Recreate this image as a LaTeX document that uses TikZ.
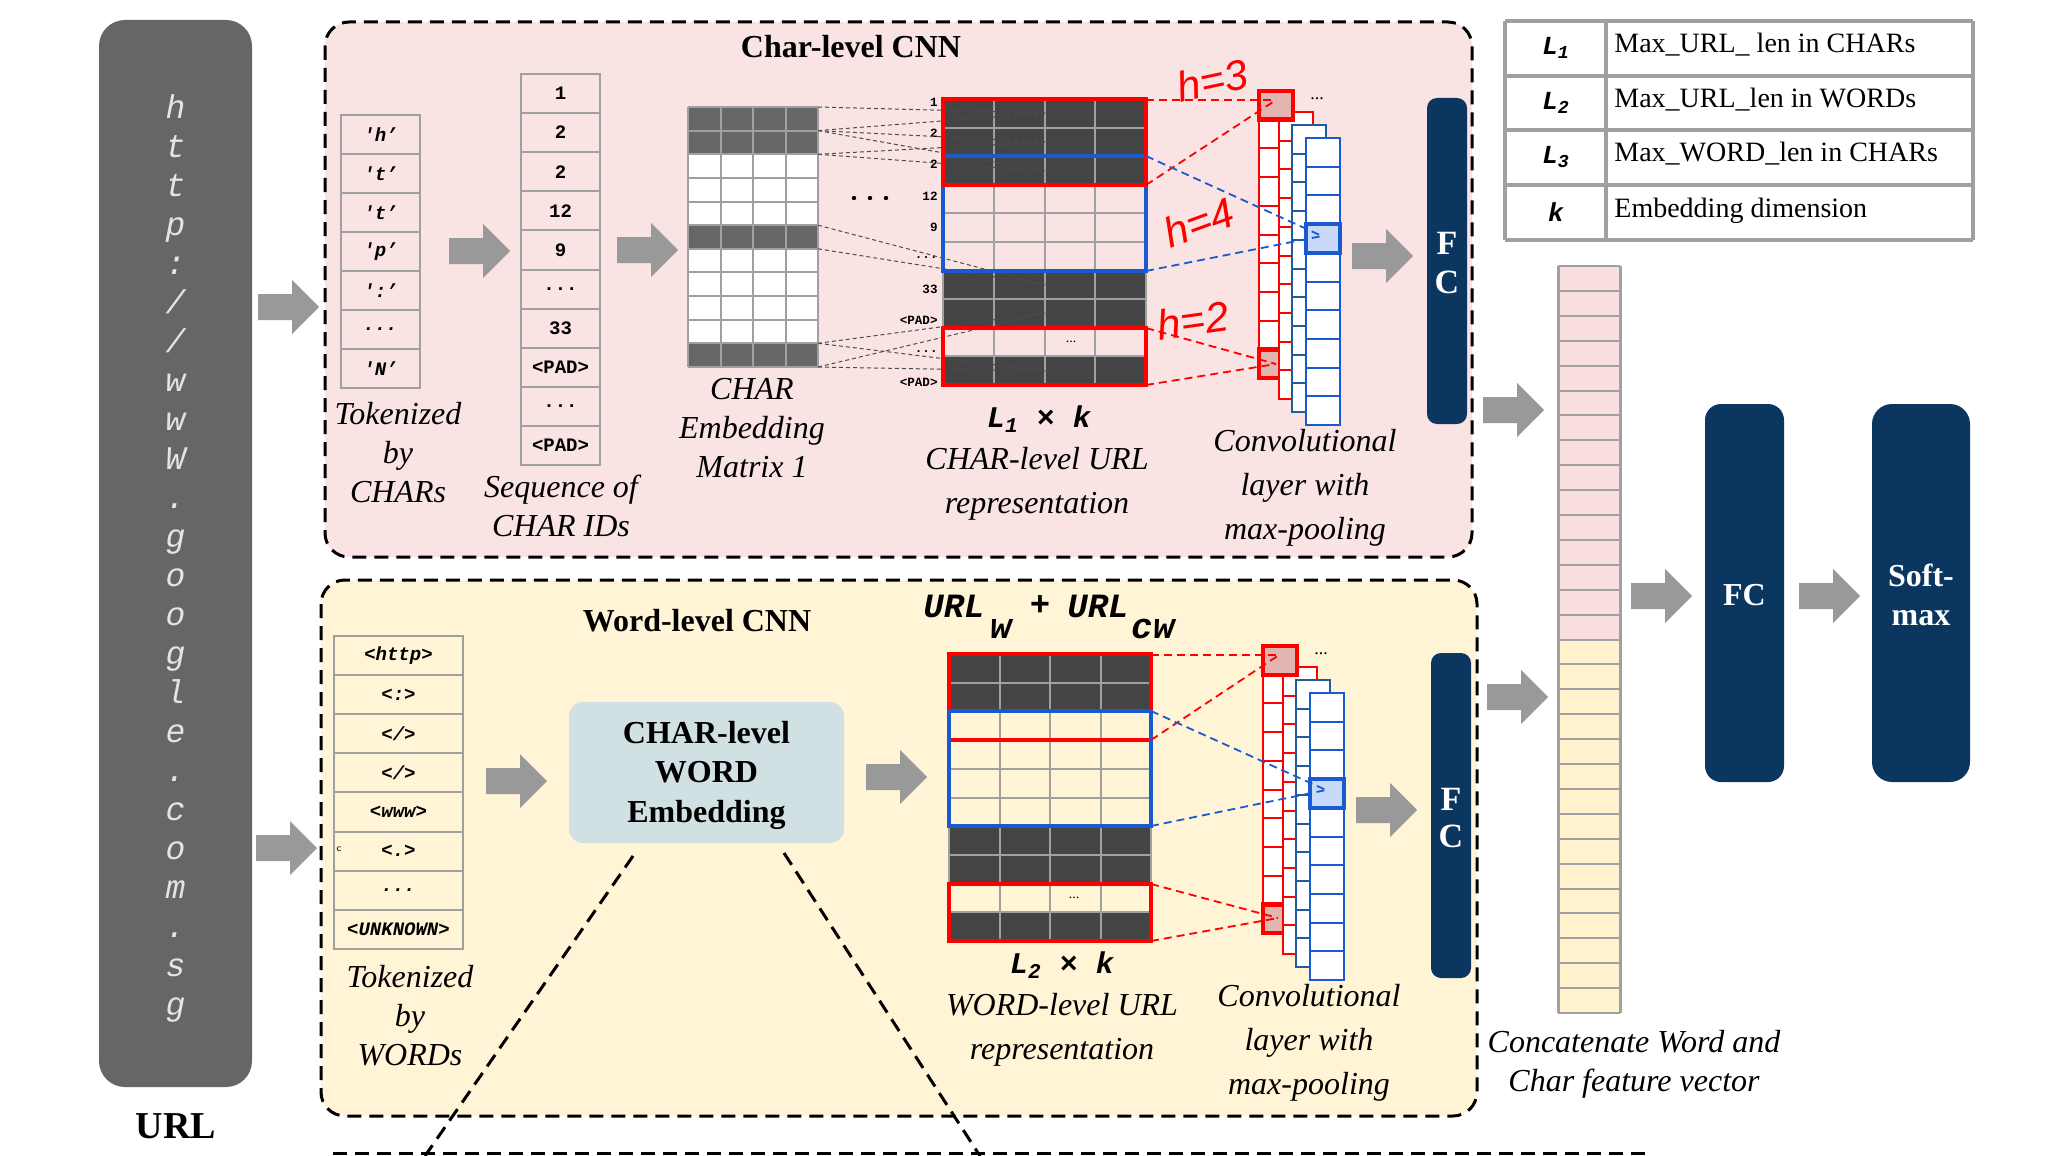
\documentclass[tikz,border=0pt]{standalone}
\usepackage{fontspec}
\setmainfont{Liberation Serif}
\setmonofont{Liberation Mono}
\newfontfamily\handfont{Liberation Sans}
\usetikzlibrary{calc}
\definecolor{pinkbg}{HTML}{F9E3E3}
\definecolor{yellowbg}{HTML}{FFF4D6}
\definecolor{navy}{HTML}{0B3660}
\definecolor{arrowgray}{HTML}{999999}
\definecolor{gridgray}{HTML}{A0A0A0}
\definecolor{embdark}{HTML}{666666}
\definecolor{repdark}{HTML}{444444}
\definecolor{urlgray}{HTML}{666666}
\definecolor{wordemb}{HTML}{D0E0E3}
\definecolor{hlred}{HTML}{E3B5B0}
\definecolor{hlblue}{HTML}{C9DAF8}
\definecolor{convblue}{HTML}{1A5AD0}
\definecolor{convblueB}{HTML}{1F5C99}
\definecolor{catpink}{HTML}{F8DEDE}
\definecolor{catyellow}{HTML}{FFF2CC}
\definecolor{urlchar}{HTML}{E4E4E4}
\newcommand{\myfs}[1]{\fontsize{#1}{#1}\selectfont}
\newcommand{\tdots}{...}
\tikzset{
  dashbox/.style={draw=black, line width=1.5pt, dash pattern=on 7pt off 4pt, rounded corners=12pt},
  gridline/.style={draw=gridgray, line width=1pt},
  tok/.style={font=\ttfamily\bfseries\itshape\myfs{9.5}, inner sep=0pt},
  idtxt/.style={font=\ttfamily\bfseries\myfs{9.5}, inner sep=0pt},
  rowlab/.style={font=\ttfamily\bfseries\myfs{6.3}, inner sep=0pt, anchor=east},
  lab/.style={font=\itshape\fontsize{16}{19.5}\selectfont, align=center, inner sep=0pt},
  labwide/.style={font=\itshape\fontsize{16}{22}\selectfont, align=center, inner sep=0pt},
  title/.style={font=\bfseries\myfs{16}, inner sep=0pt},
  dimlab/.style={font=\ttfamily\bfseries\itshape\myfs{15}, inner sep=0pt},
  thindash/.style={draw=black!70, line width=0.5pt, dash pattern=on 2pt off 1.5pt},
  reddash/.style={draw=red, line width=0.9pt, dash pattern=on 4pt off 2.5pt},
  bluedash/.style={draw=convblue, line width=0.9pt, dash pattern=on 4pt off 2.5pt},
  redbox/.style={draw=red, line width=2pt},
  bluebox/.style={draw=convblue, line width=2pt},
  hand/.style={font=\handfont\itshape\myfs{21}, text=red, inner sep=0pt},
  barrow/.pic={\fill[arrowgray] (0,-13) -- (34,-13) -- (34,-27) -- (61,0) -- (34,27) -- (34,13) -- (0,13) -- cycle;},
  convstack/.pic={
    \foreach \dx/\dy/\col in {0/0/red,20/21/red,33/34/convblueB,47/47/convblue}{
      \fill[white] (\dx,\dy) rectangle ++(34,287);
      \foreach \k in {1,2,3,4,5,6,7,8,9} \draw[\col,line width=1pt] (\dx,{\dy+\k*28.7}) -- ++(34,0);
      \draw[\col,line width=1.2pt] (\dx,\dy) rectangle ++(34,287);
      \ifnum\dx=0 \filldraw[fill=hlred,draw=red,line width=2.2pt] (0,258.3) rectangle (34,287); \fi
    }
    \filldraw[fill=hlred,draw=red,line width=2.2pt] (0,0) rectangle (34,28.7);
    \filldraw[fill=hlblue,draw=convblue,line width=2.2pt] (47,{47+3*28.7}) rectangle (81,{47+4*28.7});
    \node[font=\myfs{9}, inner sep=0pt] at (58,8) {\tdots};
  }
}
\begin{document}
\begin{tikzpicture}[x=0.5pt,y=-0.5pt]
\useasboundingbox (0,0) rectangle (2046,1156);
\fill[white] (0,0) rectangle (2046,1156);

% ===== URL box =====
\fill[urlgray, rounded corners=13pt] (99,20) rectangle (252,1087);
\foreach \c [count=\i from 0] in {h,t,t,p,{:},/,/,w,w,W,{.},g,o,o,g,l,e,{.},c,o,m,{.},s,g}
  \node[font=\ttfamily\itshape\myfs{16.5}, text=urlchar, inner sep=0pt, text height=0.55em, text depth=0.2em] (u\i) at (175.5,{115+\i*39}) {\c};
\node[font=\bfseries\myfs{19}, inner sep=0pt] (urllabel) at (176,1126) {URL};

% ===== bottom partial box =====
\draw[black, line width=1.5pt, dash pattern=on 7pt off 4pt] (333,1153) -- (1645,1153);

% ===== Char-level box =====
\path[dashbox, fill=pinkbg] (325,22) rectangle (1472,557);
\node[title] (chartitle) at (851,47) {Char-level CNN};

% tokens
\foreach \t [count=\i from 0] in {{'h’},{'t’},{'t’},{'p’},{':’},\tdots,{'N’}} {
  \draw[gridline] (341,{115+\i*39}) rectangle (420,{154+\i*39});
  \node[tok] (ct\i) at (380.5,{134.5+\i*39}) {\t};
}
\node[lab] (ctlab) at (398,453) {Tokenized\\by\\CHARs};

% IDs
\foreach \t [count=\i from 0] in {1,2,2,12,9,\tdots,33,<PAD>,\tdots,<PAD>} {
  \draw[gridline] (521,{74+\i*39.1}) rectangle (600,{113.1+\i*39.1});
  \node[idtxt] (id\i) at (560.5,{93.5+\i*39.1}) {\t};
}
\node[lab] (idlab) at (561,506) {Sequence of\\CHAR IDs};

% embedding matrix
\fill[white] (688,107) rectangle (818,367);
\foreach \r in {0,1,5,10} \fill[embdark] (688,{107+\r*23.64}) rectangle (818,{107+(\r+1)*23.64});
\foreach \r in {0,1,2,3,4,5,6,7,8,9,10,11} \draw[gridline] (688,{107+\r*23.64}) -- (818,{107+\r*23.64});
\foreach \c in {0,1,2,3,4} \draw[gridline] ({688+\c*32.5},107) -- ({688+\c*32.5},367);
\node[lab] (emblab) at (752,428) {CHAR\\Embedding\\Matrix 1};
\foreach \xx in {854,870,886} \fill[black] (\xx,198) circle (2.2);

% char rep matrix
\foreach \r in {0,1,2,6,7,9} \fill[repdark] (943,{99+\r*28.6}) rectangle (1146,{99+(\r+1)*28.6});
\foreach \r in {0,1,2,3,4,5,6,7,8,9,10} \draw[gridline] (943,{99+\r*28.6}) -- (1146,{99+\r*28.6});
\foreach \c in {0,1,2,3,4} \draw[gridline] ({943+\c*50.75},99) -- ({943+\c*50.75},385);
\node[font=\myfs{7}, inner sep=0pt] at (1071,342) {\tdots};
\foreach \t/\yy in {1/102,2/133,2/164,12/196,9/227,\tdots/258,33/289,<PAD>/320,\tdots/352,<PAD>/382}
  \node[rowlab] at (938,\yy) {\t};
\foreach \ya/\yb/\yt in {107/130.6/113, 130.6/154.3/142, 130.6/154.3/171, 225.2/248.8/285, 343.3/367/313, 343.3/367/371} {
  \draw[thindash] (818,\ya) -- (1045,\yt);
  \draw[thindash] (818,\yb) -- (1045,\yt);
}
\draw[bluebox] (943,156.2) rectangle (1146,270.6);
\draw[redbox] (943,99) rectangle (1146,184.8);
\draw[redbox] (943,327.8) rectangle (1146,385);
\node[dimlab] (dim1) at (1039,419) {L\textsubscript{1} × k};
\node[labwide] (replab) at (1037,484) {CHAR-level URL\\representation};

% conv stack char
\pic at (1259,91) {convstack};
\draw[reddash] (1146,100) -- (1276,100);
\draw[reddash] (1146,185) -- (1276,100);
\draw[bluedash] (1146,156) -- (1322,236);
\draw[bluedash] (1146,271) -- (1322,236);
\draw[reddash] (1146,328) -- (1276,364);
\draw[reddash] (1146,385) -- (1276,364);
\node[hand, rotate=12] (h3) at (1212,80) {h=3};
\node[hand, rotate=20] (h4) at (1199,222) {h=4};
\node[hand, rotate=8] (h2) at (1193,320) {h=2};
\node[labwide] (convlab1) at (1305,488) {Convolutional\\layer with\\max-pooling};

% FC char
\fill[navy, rounded corners=5pt] (1427,98) rectangle (1467,424);
\node[font=\bfseries\myfs{17}, text=white, inner sep=0pt] (fc1f) at (1447,243) {F};
\node[font=\bfseries\myfs{17}, text=white, inner sep=0pt] (fc1c) at (1447,282) {C};

% arrows in char box
\pic at (449,251) {barrow};
\pic at (617,250) {barrow};
\pic at (1352,256) {barrow};

% ===== Word-level box =====
\path[dashbox, fill=yellowbg] (321,580) rectangle (1477,1116);
\node[title] (wordtitle) at (697,621) {Word-level CNN};

\foreach \t [count=\i from 0] in {{<http>},{<:>},{</>},{</>},{<www>},{<.>},\tdots,{<UNKNOWN>}} {
  \draw[gridline] (334,{636+\i*39.1}) rectangle (463,{675.1+\i*39.1});
  \node[tok] (wt\i) at (398.5,{655.5+\i*39.1}) {\t};
}
\node[font=\sffamily\myfs{5}, inner sep=0pt] at (339,849) {c};
\node[lab] (wtlab) at (410,1016) {Tokenized\\by\\WORDs};

\pic at (486,781) {barrow};
\fill[wordemb, rounded corners=7pt] (569,702) rectangle (844,843);
\node[font=\bfseries\fontsize{16}{19.75}\selectfont, align=center, inner sep=0pt] (wemb) at (706.5,775) {CHAR-level\\WORD\\Embedding};
\pic at (866,777) {barrow};

% word rep matrix
\foreach \r in {0,1,6,7,9} \fill[repdark] (949,{654+\r*28.7}) rectangle (1151,{654+(\r+1)*28.7});
\foreach \r in {0,1,2,3,4,5,6,7,8,9,10} \draw[gridline] (949,{654+\r*28.7}) -- (1151,{654+\r*28.7});
\foreach \c in {0,1,2,3,4} \draw[gridline] ({949+\c*50.5},654) -- ({949+\c*50.5},941);
\node[font=\myfs{7}, inner sep=0pt] at (1074,898) {\tdots};
\draw[redbox] (949,654) rectangle (1151,740.1);
\draw[bluebox] (949,711.4) rectangle (1151,826.2);
\draw[redbox] (949,883.6) rectangle (1151,941);

\node[font=\ttfamily\bfseries\itshape\myfs{17}, inner sep=0pt] (urlw) at (954,606) {URL};
\node[font=\ttfamily\bfseries\itshape\myfs{18}, inner sep=0pt] (subw) at (1001,629) {w};
\node[font=\ttfamily\bfseries\itshape\myfs{17}, inner sep=0pt] (plus) at (1040,606) {+};
\node[font=\ttfamily\bfseries\itshape\myfs{17}, inner sep=0pt] (urlcw) at (1098,606) {URL};
\node[font=\ttfamily\bfseries\itshape\myfs{18}, inner sep=0pt] (subcw) at (1153,629) {cw};
\node[dimlab] (dim2) at (1062,965) {L\textsubscript{2} × k};
\node[labwide] (wreplab) at (1062,1030) {WORD-level URL\\representation};

\pic at (1263,646) {convstack};
\draw[reddash] (1151,655) -- (1279,655);
\draw[reddash] (1151,740) -- (1279,655);
\draw[bluedash] (1151,711) -- (1326,790);
\draw[bluedash] (1151,826) -- (1326,790);
\draw[reddash] (1151,884) -- (1278,918);
\draw[reddash] (1151,941) -- (1278,918);
\node[labwide] (convlab2) at (1309,1043) {Convolutional\\layer with\\max-pooling};

\fill[navy, rounded corners=5pt] (1431,653) rectangle (1471,978);
\node[font=\bfseries\myfs{17}, text=white, inner sep=0pt] (fc2f) at (1451,799) {F};
\node[font=\bfseries\myfs{17}, text=white, inner sep=0pt] (fc2c) at (1451,836) {C};
\pic at (1356,810) {barrow};

% dashed zoom lines
\draw[black, line width=1.5pt, dash pattern=on 7pt off 4pt] (633,856) -- (425,1156);
\draw[black, line width=1.5pt, dash pattern=on 7pt off 4pt] (784,853) -- (980,1156);

% URL arrows
\pic at (258,307) {barrow};
\pic at (256,848) {barrow};

% ===== right side =====
\pic at (1483,410) {barrow};
\pic at (1487,697) {barrow};

% table
\foreach \yy in {21,76,130,185,240} \draw[gridgray, line width=2pt] (1505,\yy) -- (1973,\yy);
\foreach \xx in {1505,1606,1973} \draw[gridgray, line width=2pt] (\xx,21) -- (\xx,240);
\foreach \s/\d/\yy in {L\textsubscript{1}/Max\_URL\_ len in CHARs/48, L\textsubscript{2}/Max\_URL\_len in WORDs/103, L\textsubscript{3}/Max\_WORD\_len in CHARs/157, k/Embedding dimension/212} {
  \node[font=\ttfamily\bfseries\itshape\myfs{13}, inner sep=0pt] at (1556,\yy) {\s};
  \node[font=\myfs{14}, inner sep=0pt, anchor=west, text height=0.7em, text depth=0.2em] at (1614,\yy) {\d};
}

% concat vector
\foreach \r in {0,...,14} \fill[catpink] (1558,{266+\r*24.9}) rectangle (1620,{266+(\r+1)*24.9});
\foreach \r in {15,...,29} \fill[catyellow] (1558,{266+\r*24.9}) rectangle (1620,{266+(\r+1)*24.9});
\foreach \r in {0,...,30} \draw[gridgray, line width=1pt] (1558,{266+\r*24.9}) -- (1620,{266+\r*24.9});
\draw[gridgray, line width=1.5pt] (1558,266) -- (1558,1013);
\draw[gridgray, line width=1.5pt] (1620,266) -- (1620,1013);
\node[lab] (catlab) at (1634,1064) {Concatenate Word and\\Char feature vector};

\pic at (1631,596) {barrow};
\fill[navy, rounded corners=8pt] (1705,404) rectangle (1784,782);
\node[font=\bfseries\myfs{16}, text=white, inner sep=0pt] (fcbig) at (1744.5,595) {FC};
\pic at (1799,596) {barrow};
\fill[navy, rounded corners=10pt] (1872,404) rectangle (1970,782);
\node[font=\bfseries\fontsize{16}{19.5}\selectfont, text=white, align=center, inner sep=0pt] (soft) at (1921,595) {Soft-\\max};
\end{tikzpicture}
\end{document}
